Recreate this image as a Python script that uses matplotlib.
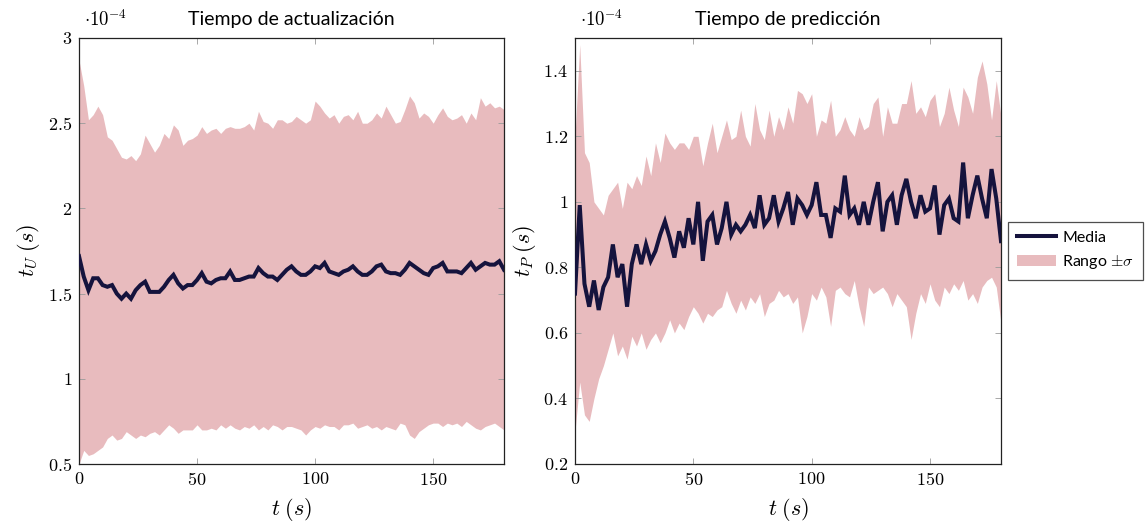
import numpy as np
import matplotlib
matplotlib.use("Agg")
import matplotlib.pyplot as plt
from matplotlib.ticker import FuncFormatter, FixedLocator
from matplotlib.lines import Line2D
from matplotlib.patches import Patch

plt.rcParams['mathtext.fontset'] = 'cm'
plt.rcParams['font.family'] = ['Lato', 'DejaVu Sans']

# time axis (s)
t = np.arange(0, 181, 2)

# Values in units of 1e-4 s
upd_mean = [1.72, 1.60, 1.52, 1.59, 1.59, 1.55, 1.54, 1.55, 1.50, 1.47, 1.50, 1.47, 1.52, 1.55, 1.57, 1.51,
            1.51, 1.51, 1.54, 1.58, 1.61, 1.56, 1.53, 1.55, 1.55, 1.58, 1.62, 1.57, 1.56, 1.58, 1.59, 1.59,
            1.63, 1.58, 1.58, 1.59, 1.60, 1.60, 1.65, 1.62, 1.60, 1.60, 1.58, 1.61, 1.64, 1.66, 1.63, 1.61,
            1.61, 1.63, 1.66, 1.65, 1.68, 1.63, 1.62, 1.61, 1.63, 1.64, 1.66, 1.63, 1.61, 1.61, 1.63, 1.66,
            1.67, 1.63, 1.62, 1.62, 1.61, 1.64, 1.68, 1.66, 1.64, 1.62, 1.61, 1.65, 1.66, 1.68, 1.63, 1.63,
            1.63, 1.62, 1.65, 1.68, 1.64, 1.66, 1.68, 1.67, 1.67, 1.69, 1.64]
upd_high = [2.87, 2.72, 2.52, 2.55, 2.60, 2.55, 2.42, 2.40, 2.35, 2.30, 2.29, 2.31, 2.28, 2.32, 2.43, 2.38,
            2.33, 2.37, 2.44, 2.41, 2.49, 2.46, 2.37, 2.40, 2.41, 2.43, 2.48, 2.44, 2.46, 2.47, 2.44, 2.47,
            2.48, 2.47, 2.47, 2.48, 2.50, 2.46, 2.57, 2.51, 2.50, 2.47, 2.52, 2.52, 2.50, 2.51, 2.54, 2.52,
            2.50, 2.52, 2.63, 2.60, 2.56, 2.53, 2.55, 2.50, 2.54, 2.55, 2.52, 2.57, 2.50, 2.50, 2.52, 2.56,
            2.53, 2.60, 2.55, 2.50, 2.51, 2.58, 2.66, 2.62, 2.53, 2.56, 2.54, 2.50, 2.55, 2.59, 2.54, 2.52,
            2.53, 2.55, 2.50, 2.56, 2.52, 2.65, 2.60, 2.62, 2.59, 2.60, 2.58]
upd_low = [0.50, 0.58, 0.55, 0.56, 0.58, 0.60, 0.65, 0.67, 0.64, 0.65, 0.69, 0.67, 0.65, 0.67, 0.66, 0.68,
           0.69, 0.67, 0.70, 0.73, 0.71, 0.68, 0.70, 0.70, 0.70, 0.73, 0.70, 0.70, 0.71, 0.70, 0.73, 0.71,
           0.73, 0.71, 0.70, 0.72, 0.71, 0.73, 0.70, 0.72, 0.70, 0.73, 0.72, 0.70, 0.72, 0.72, 0.71, 0.70,
           0.67, 0.70, 0.72, 0.71, 0.73, 0.72, 0.72, 0.70, 0.73, 0.73, 0.74, 0.71, 0.72, 0.73, 0.71, 0.72,
           0.70, 0.72, 0.71, 0.70, 0.74, 0.73, 0.67, 0.65, 0.69, 0.71, 0.73, 0.74, 0.74, 0.72, 0.74, 0.73,
           0.74, 0.72, 0.75, 0.73, 0.71, 0.70, 0.72, 0.73, 0.74, 0.72, 0.70]

pred_mean = [0.72, 0.99, 0.75, 0.68, 0.76, 0.67, 0.74, 0.77, 0.87, 0.77, 0.81, 0.68, 0.81, 0.87, 0.81, 0.87,
             0.82, 0.85, 0.90, 0.94, 0.89, 0.83, 0.91, 0.86, 0.95, 0.87, 1.00, 0.82, 0.94, 0.96, 0.87, 0.92,
             1.00, 0.90, 0.93, 0.91, 0.93, 0.96, 0.92, 1.02, 0.93, 0.95, 1.02, 0.94, 0.98, 1.03, 0.93, 1.01,
             0.99, 0.96, 0.99, 1.06, 0.96, 0.96, 0.89, 0.98, 0.97, 1.08, 0.96, 0.98, 0.93, 1.00, 0.93, 1.00,
             1.06, 0.91, 1.00, 1.02, 0.93, 1.02, 1.07, 1.00, 0.95, 1.02, 0.97, 0.98, 1.05, 0.90, 0.99, 1.01,
             0.95, 0.94, 1.12, 0.95, 1.02, 1.08, 1.01, 0.95, 1.10, 1.01, 0.88]
pred_high = [1.20, 1.48, 1.15, 1.12, 1.00, 0.98, 0.96, 1.02, 1.04, 1.06, 0.98, 1.06, 1.04, 1.08, 1.05, 1.14,
             1.08, 1.18, 1.12, 1.21, 1.18, 1.16, 1.18, 1.18, 1.16, 1.20, 1.20, 1.11, 1.18, 1.24, 1.15, 1.20,
             1.25, 1.19, 1.20, 1.28, 1.20, 1.17, 1.30, 1.22, 1.19, 1.28, 1.20, 1.26, 1.22, 1.29, 1.24, 1.34,
             1.33, 1.30, 1.33, 1.20, 1.25, 1.24, 1.31, 1.20, 1.22, 1.26, 1.22, 1.20, 1.26, 1.22, 1.23, 1.30,
             1.32, 1.20, 1.29, 1.24, 1.24, 1.30, 1.30, 1.37, 1.27, 1.29, 1.26, 1.31, 1.33, 1.23, 1.27, 1.35,
             1.28, 1.23, 1.35, 1.32, 1.27, 1.38, 1.43, 1.36, 1.25, 1.37, 1.26]
pred_low = [0.30, 0.45, 0.35, 0.33, 0.40, 0.46, 0.50, 0.55, 0.60, 0.53, 0.56, 0.52, 0.59, 0.56, 0.60, 0.55,
            0.58, 0.60, 0.57, 0.60, 0.64, 0.60, 0.63, 0.61, 0.65, 0.68, 0.66, 0.63, 0.66, 0.65, 0.67, 0.68,
            0.73, 0.69, 0.66, 0.70, 0.67, 0.71, 0.69, 0.72, 0.65, 0.69, 0.70, 0.73, 0.71, 0.72, 0.69, 0.71,
            0.60, 0.65, 0.72, 0.70, 0.74, 0.71, 0.62, 0.73, 0.74, 0.72, 0.71, 0.76, 0.68, 0.62, 0.74, 0.72,
            0.73, 0.74, 0.72, 0.68, 0.72, 0.70, 0.68, 0.58, 0.66, 0.72, 0.69, 0.75, 0.70, 0.68, 0.74, 0.72,
            0.75, 0.73, 0.76, 0.70, 0.72, 0.69, 0.74, 0.76, 0.77, 0.74, 0.63]

titles = ["Tiempo de actualización", "Tiempo de predicción"]
ylabels = [r"$t_U\;(s)$", r"$t_P\;(s)$"]
yticks_list = [[0.5, 1, 1.5, 2, 2.5, 3], [0.2, 0.4, 0.6, 0.8, 1.0, 1.2, 1.4]]
ylims = [(0.5, 3.0), (0.2, 1.5)]
xticks = [0, 50, 100, 150]

band_color = "#E8BBBE"
line_color = "#15133D"

W, H = 1146, 523
fig = plt.figure(figsize=(W / 100, H / 100), dpi=100)
ax1 = fig.add_axes([79 / W, 1 - 464 / H, 425 / W, 426 / H])
ax2 = fig.add_axes([575 / W, 1 - 464 / H, 426 / W, 426 / H])

fmt = FuncFormatter(lambda v, p: r"$%g$" % v)

series = [(upd_mean, upd_low, upd_high), (pred_mean, pred_low, pred_high)]
for i, ax in enumerate([ax1, ax2]):
    m, lo, hi = series[i]
    ax.fill_between(t, lo, hi, color=band_color, linewidth=0, zorder=1)
    ax.plot(t, m, color=line_color, linewidth=2.9, zorder=3, solid_joinstyle='miter')
    ax.set_xlim(0, 180)
    ax.set_ylim(*ylims[i])
    ax.xaxis.set_major_locator(FixedLocator(xticks))
    ax.yaxis.set_major_locator(FixedLocator(yticks_list[i]))
    ax.xaxis.set_major_formatter(fmt)
    ax.yaxis.set_major_formatter(fmt)
    ax.tick_params(direction='in', length=4, width=0.6, color='#9a9a9a',
                   top=True, right=True, labelsize=13, pad=5)
    for s in ax.spines.values():
        s.set_linewidth(0.9)
        s.set_color('#222222')
    ax.set_xlabel(r"$t\;(s)$", fontsize=16, labelpad=6)
    ax.set_ylabel(ylabels[i], fontsize=16, labelpad=4)
    ax.set_title(titles[i], fontsize=14, pad=9)
    ax.text(0.012, 1.022, r"$\cdot 10^{-4}$", transform=ax.transAxes, fontsize=13.5,
            ha='left', va='bottom')

handles = [Line2D([0], [0], color=line_color, linewidth=2.9),
           Patch(facecolor=band_color, edgecolor='none')]
leg = ax2.legend(handles, ["Media", r"Rango $\pm\sigma$"], loc='center left',
                 bbox_to_anchor=(1.0164, 0.5), borderaxespad=0, frameon=True, fancybox=False,
                 edgecolor='#222222', fontsize=11.5, handlelength=2.45, handletextpad=0.4,
                 borderpad=0.55, labelspacing=0.55)
leg.get_frame().set_linewidth(0.9)

fig.savefig("out.png", dpi=100)
